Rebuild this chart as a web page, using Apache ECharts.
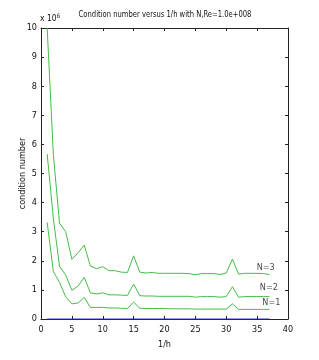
<!DOCTYPE html>
<html>
<head>
<meta charset="utf-8">
<script src="https://cdn.jsdelivr.net/npm/echarts@6/dist/echarts.min.js"></script>
<style>html,body{margin:0;padding:0;background:#fff;}#c{width:319px;height:360px;}</style>
</head>
<body>
<div id="c"></div>
<script>
var xs = [1,2,3,4,5,6,7,8,9,10,11,12,13,14,15,16,17,18,19,20,21,22,23,24,25,26,27,28,29,30,31,32,33,34,35,36,37];
var n3 = [10,5.65,3.29,3.0,2.05,2.28,2.54,1.82,1.73,1.80,1.66,1.66,1.61,1.60,2.17,1.61,1.58,1.60,1.57,1.57,1.57,1.57,1.57,1.56,1.52,1.56,1.56,1.56,1.53,1.58,2.06,1.54,1.57,1.57,1.57,1.56,1.53];
var n2 = [5.67,3.45,1.81,1.51,0.99,1.13,1.43,0.90,0.86,0.90,0.83,0.83,0.82,0.81,1.20,0.80,0.79,0.79,0.78,0.78,0.78,0.78,0.78,0.78,0.75,0.77,0.77,0.77,0.75,0.77,1.11,0.75,0.77,0.77,0.77,0.77,0.77];
var n1 = [3.32,1.63,1.26,0.76,0.52,0.55,0.74,0.40,0.40,0.40,0.38,0.38,0.37,0.36,0.58,0.37,0.36,0.36,0.36,0.36,0.35,0.35,0.35,0.35,0.34,0.34,0.34,0.34,0.34,0.34,0.52,0.33,0.33,0.33,0.33,0.33,0.33];
var base = xs.map(function(){return 0;});
var lineNames = ['N=3','N=2','N=1'];
var labelX = [36.4,36.9,37.3];
var labelY = [1.75,1.06,0.55];
var titleText = 'Condition number versus 1/h with N,Re=1.0e+008';
var xName = '1/h';
var yName = 'condition number';

function pairs(v){return xs.map(function(x,i){return [x,v[i]];});}
var FONT = '"DejaVu Sans Condensed","Liberation Sans",Arial,sans-serif';
var green = '#45bd45';
var chart = echarts.init(document.getElementById('c'));
var axisCommon = {
  axisLine:{show:true,onZero:false,lineStyle:{color:'#222',width:1}},
  axisTick:{show:true,inside:true,length:3,lineStyle:{color:'#222'}},
  splitLine:{show:false}
};
chart.setOption({
  animation:false,
  textStyle:{fontFamily:FONT},
  graphic:[
    {type:'text',x:165,y:15,scaleX:0.84,originX:0,originY:0,
      style:{text:titleText,fontFamily:FONT,fontSize:9,fill:'#111',align:'center',verticalAlign:'middle'}},
    {type:'text',left:40,top:13,style:{text:'{a|x 10}{b|6}',rich:{a:{fontFamily:FONT,fontSize:8.5,fill:'#111'},b:{fontFamily:FONT,fontSize:6,fill:'#111',verticalAlign:'top',padding:[0,0,6,0]}}}}],
  grid:{left:41,right:31,top:28,bottom:41},
  xAxis:[
    Object.assign({type:'value',min:0,max:40,interval:5,position:'bottom',name:xName,nameLocation:'middle',nameGap:21,
      nameTextStyle:{fontFamily:FONT,fontSize:9,color:'#111'},
      axisLabel:{fontFamily:FONT,fontSize:9,color:'#111',margin:6}},axisCommon),
    Object.assign({type:'value',min:0,max:40,interval:5,position:'top',axisLabel:{show:false}},axisCommon)
  ],
  yAxis:[
    Object.assign({type:'value',min:0,max:10,interval:1,position:'left',name:yName,nameLocation:'middle',nameGap:14,nameMoveOverlap:false,
      nameTextStyle:{fontFamily:FONT,fontSize:9,color:'#111'},
      axisLabel:{fontFamily:FONT,fontSize:9,color:'#111',margin:4}},axisCommon),
    Object.assign({type:'value',min:0,max:10,interval:1,position:'right',axisLabel:{show:false}},axisCommon)
  ],
  series:[
    {type:'line',data:pairs(n3),symbol:'none',lineStyle:{color:green,width:1},z:3},
    {type:'line',data:pairs(n2),symbol:'none',lineStyle:{color:green,width:1},z:3},
    {type:'line',data:pairs(n1),symbol:'none',lineStyle:{color:green,width:1},z:3},
    {type:'line',data:pairs(base),symbol:'none',lineStyle:{color:'#1f3fd6',width:1},z:4},
    {type:'scatter',symbolSize:0,z:5,
      data:lineNames.map(function(n,i){return {value:[labelX[i],labelY[i]],name:n};}),
      label:{show:true,position:'inside',formatter:function(p){return p.name;},fontFamily:FONT,fontSize:9,color:'#111'}}
  ]
});
</script>
</body>
</html>
